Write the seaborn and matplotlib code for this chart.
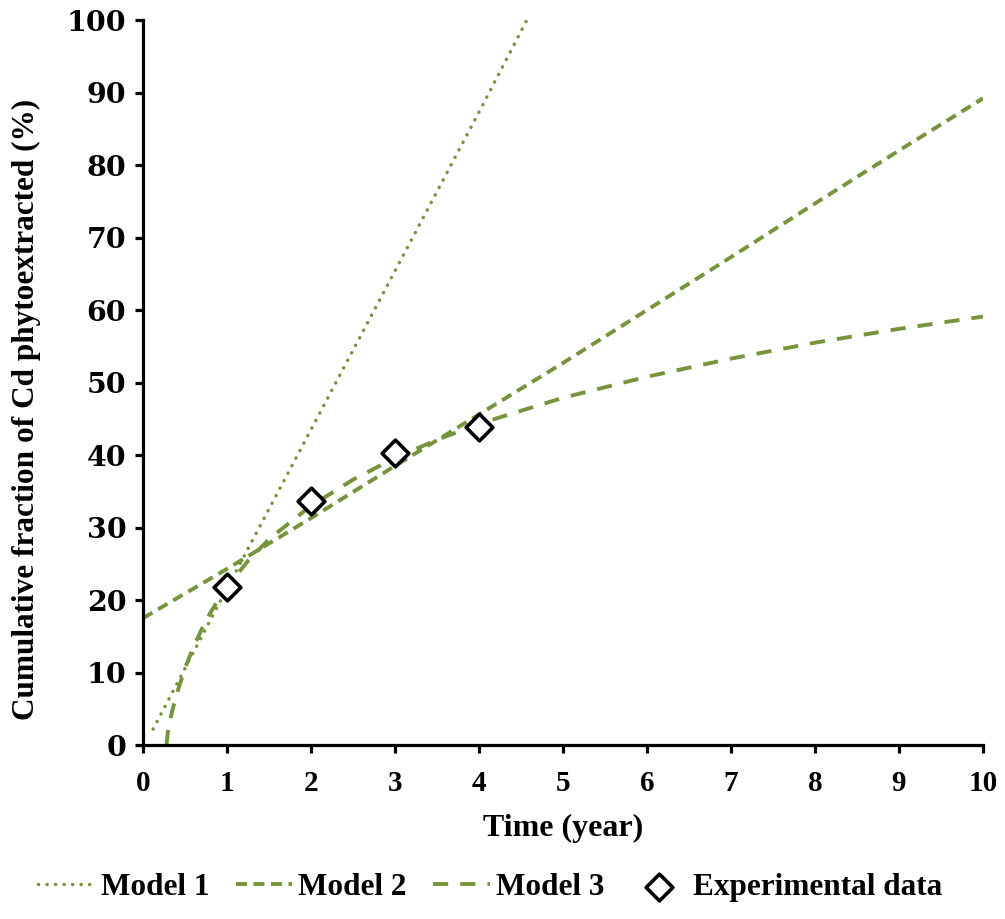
import matplotlib
matplotlib.use("Agg")
import matplotlib.pyplot as plt
import seaborn as sns
import pandas as pd

# ---- data ----
m1_x = [0.12, 1, 2, 3, 4, 4.57]
m1_y = [2.2, 21.6, 43.5, 65.4, 87.3, 100]

m2_x = [0, 1, 2, 3, 4, 5, 6, 7, 8, 9, 10]
m2_y = [17.5, 24.3, 31.3, 38.5, 45.6, 52.7, 60.0, 67.3, 74.7, 82.0, 89.2]

m3_x = [0.28, 0.3, 0.35, 0.4, 0.5, 0.6, 0.7, 0.8, 0.9, 1.0, 1.25, 1.5, 2, 2.5,
        3, 3.5, 4, 5, 6, 7, 8, 9, 10]
m3_y = [0.0, 2.3, 4.8, 7.0, 10.6, 13.5, 16.0, 18.2, 20.1, 21.8, 25.4, 28.4, 33.0, 36.6,
        39.6, 42.1, 44.3, 47.9, 50.8, 53.3, 55.5, 57.4, 59.1]

exp_x = [1, 2, 3, 4]
exp_y = [21.8, 33.6, 40.3, 43.8]

x_ticks = [0, 1, 2, 3, 4, 5, 6, 7, 8, 9, 10]
y_ticks = [0, 10, 20, 30, 40, 50, 60, 70, 80, 90, 100]

labels = ["Model 1", "Model 2", "Model 3", "Experimental data"]
x_title = "Time (year)"
y_title = "Cumulative fraction of Cd phytoextracted (%)"

GREEN = "#77933C"

sns.set_style("ticks")
plt.rcParams["font.family"] = ["Liberation Serif", "DejaVu Serif"]
plt.rcParams["font.weight"] = "bold"
plt.rcParams["axes.labelweight"] = "bold"
for k in ["text.color", "axes.labelcolor", "xtick.color", "ytick.color",
          "xtick.labelcolor", "ytick.labelcolor", "axes.edgecolor"]:
    plt.rcParams[k] = "black"

fig = plt.figure(figsize=(10.05, 9.19), dpi=100)
ax = fig.add_axes([0.1423, 0.1893, 0.8358, 0.7889])

df1 = pd.DataFrame({"x": m1_x, "y": m1_y})
df2 = pd.DataFrame({"x": m2_x, "y": m2_y})
df3 = pd.DataFrame({"x": m3_x, "y": m3_y})
dfe = pd.DataFrame({"x": exp_x, "y": exp_y})

sns.lineplot(data=df1, x="x", y="y", ax=ax, color=GREEN, lw=2.5,
             linestyle=(0, (0.05, 2.4)), dash_capstyle="round", label=labels[0])
sns.lineplot(data=df2, x="x", y="y", ax=ax, color=GREEN, lw=2.8,
             linestyle=(0, (2.8, 1.7)), label=labels[1])
sns.lineplot(data=df3, x="x", y="y", ax=ax, color=GREEN, lw=2.8,
             linestyle=(0, (3.9, 3.1)), label=labels[2])
sns.scatterplot(data=dfe, x="x", y="y", ax=ax, marker="D", s=185, color="white",
                edgecolor="black", linewidth=2.6, zorder=5, label=labels[3])

ax.set_xlim(0, 10)
ax.set_ylim(0, 100)
ax.set_xticks(x_ticks)
ax.set_yticks(y_ticks)
ax.set_xlabel(x_title, fontsize=23, labelpad=12)
ax.set_ylabel(y_title, fontsize=22.5)
ax.yaxis.set_label_coords(-0.122, 0.463)

sns.despine(ax=ax)
for s in ["left", "bottom"]:
    ax.spines[s].set_linewidth(2.3)
    ax.spines[s].set_color("black")
ax.tick_params(axis="both", direction="out", length=6, width=2.3, colors="black")
ax.tick_params(axis="x", pad=12, labelsize=21)
ax.tick_params(axis="y", pad=6)
for t in ax.get_yticklabels():
    t.set_fontfamily("DejaVu Serif")
    t.set_fontsize(20.5)
    t.set_fontweight("bold")

handles, labs = ax.get_legend_handles_labels()
ax.get_legend().remove()
fig.legend(handles, labs, loc="lower center", bbox_to_anchor=(0.488, -0.012), ncol=4,
           frameon=False, prop={"weight": "bold", "size": 22.5}, handlelength=1.8,
           handletextpad=0.2, columnspacing=0.85)

fig.savefig("out.png", dpi=100)
